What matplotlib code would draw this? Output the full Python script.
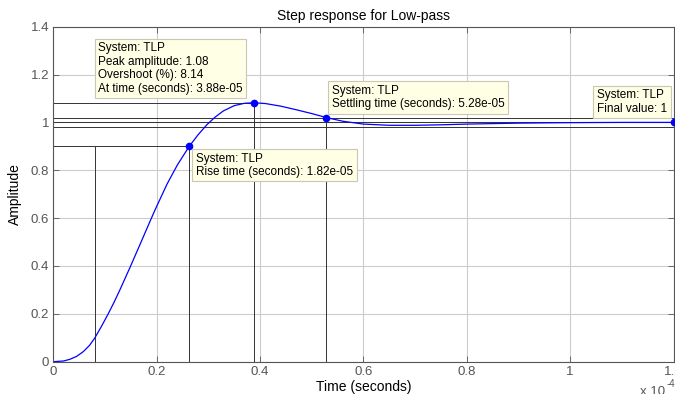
import matplotlib
matplotlib.use("Agg")
import matplotlib.pyplot as plt

plt.rcParams['font.family'] = ['Liberation Sans', 'DejaVu Sans']

# step response (time in units of 1e-4 s)
t = [0, 0.02, 0.032, 0.045, 0.058, 0.07, 0.08, 0.093, 0.106, 0.117, 0.128,
     0.148, 0.168, 0.187, 0.197, 0.22, 0.24, 0.263, 0.28, 0.297, 0.313, 0.329,
     0.35, 0.37, 0.388, 0.41, 0.44, 0.47, 0.50, 0.529, 0.56, 0.60, 0.65, 0.70,
     0.75, 0.80, 0.90, 1.0, 1.1, 1.2]
amp = [0, 0.003, 0.010, 0.022, 0.042, 0.068, 0.098, 0.147, 0.199, 0.246, 0.296,
       0.392, 0.491, 0.586, 0.635, 0.742, 0.822, 0.900, 0.948, 0.990, 1.022, 1.048,
       1.070, 1.080, 1.082, 1.079, 1.068, 1.053, 1.037, 1.02, 1.005, 0.993, 0.988,
       0.988, 0.990, 0.993, 0.997, 0.999, 1.0, 1.0]

# characteristics
t10, t90 = 0.081, 0.263
peak_t, peak_y = 0.388, 1.08
settle_t, settle_y = 0.528, 1.02
final_t, final_y = 1.2, 1.0

xticks = [0, 0.2, 0.4, 0.6, 0.8, 1.0, 1.2]
xlabels = ['0', '0.2', '0.4', '0.6', '0.8', '1', '1.2']
yticks = [0, 0.2, 0.4, 0.6, 0.8, 1.0, 1.2, 1.4]
ylabels = ['0', '0.2', '0.4', '0.6', '0.8', '1', '1.2', '1.4']

fig = plt.figure(figsize=(6.75, 3.94), dpi=100)
ax = fig.add_axes([53.3 / 675, 32.3 / 394, 620.2 / 675, 335 / 394])

ax.set_xlim(0, 1.2)
ax.set_ylim(0, 1.4)
ax.set_xticks(xticks)
ax.set_xticklabels(xlabels)
ax.set_yticks(yticks)
ax.set_yticklabels(ylabels)
ax.grid(True, color='#cccccc', linewidth=0.8)
ax.set_axisbelow(True)
ax.tick_params(direction='in', top=True, right=True, length=4, width=0.6,
               colors='#555555', labelsize=9.5, pad=3)
for s in ax.spines.values():
    s.set_color('#555555')
    s.set_linewidth(0.8)

lc = '#333333'
lw = 0.7
# rise time lines
ax.plot([0, t90], [0.9, 0.9], color=lc, lw=lw)
ax.plot([t10, t10], [0, 0.9], color=lc, lw=lw)
ax.plot([t90, t90], [0, 0.9], color=lc, lw=lw)
# peak lines
ax.plot([0, peak_t], [peak_y, peak_y], color=lc, lw=lw)
ax.plot([peak_t, peak_t], [0, peak_y], color=lc, lw=lw)
# settling lines
ax.axhline(1.02, color=lc, lw=lw)
ax.axhline(0.98, color=lc, lw=lw)
ax.plot([settle_t, settle_t], [0, settle_y], color=lc, lw=lw)
# final value
ax.axhline(final_y, color=lc, lw=lw)

ax.plot(t, amp, color='#0000ff', lw=0.9)
ax.plot([t90, peak_t, settle_t, final_t], [0.9, peak_y, settle_y, final_y], 'o',
        color='#0000ff', ms=4.5, clip_on=False, zorder=5)

box = dict(boxstyle='square,pad=0.3', fc='#ffffe6', ec='#c8c8b4', lw=0.8)
fs = 8.5
ax.text(0.087, 1.334, 'System: TLP\nPeak amplitude: 1.08\nOvershoot (%): 8.14\n'
        'At time (seconds): 3.88e-05', fontsize=fs, va='top', ha='left',
        bbox=box, linespacing=1.15, zorder=6)
ax.text(0.276, 0.874, 'System: TLP\nRise time (seconds): 1.82e-05',
        fontsize=fs, va='top', ha='left', bbox=box, linespacing=1.15, zorder=6)
ax.text(0.539, 1.157, 'System: TLP\nSettling time (seconds): 5.28e-05',
        fontsize=fs, va='top', ha='left', bbox=box, linespacing=1.15, zorder=6)
ax.text(1.052, 1.139, 'System: TLP\nFinal value: 1',
        fontsize=fs, va='top', ha='left', bbox=box, linespacing=1.15, zorder=6)

ax.set_title('Step response for Low-pass', fontsize=10, pad=5)
ax.set_xlabel('Time (seconds)', fontsize=10, labelpad=1.5)
ax.set_ylabel('Amplitude', fontsize=10, labelpad=6)

fig.text(640 / 675, -4 / 394, 'x 10', fontsize=9.5, color='#555555',
         ha='left', va='bottom')
fig.text(667 / 675, 5 / 394, '-4', fontsize=7, color='#555555',
         ha='left', va='bottom')

fig.savefig('out.png', dpi=100)
